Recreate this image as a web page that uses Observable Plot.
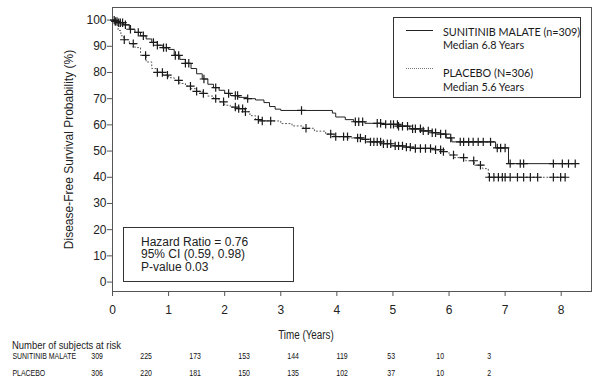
<!DOCTYPE html>
<html><head><meta charset="utf-8">
<script src="https://cdn.jsdelivr.net/npm/d3@7"></script>
<script src="https://cdn.jsdelivr.net/npm/@observablehq/plot@0.6"></script>
<style>
body{margin:0;background:#fff;}
#wrap{position:relative;width:600px;height:383px;overflow:hidden;font-family:"Liberation Sans",Arial,sans-serif;color:#222;}
#wrap svg{position:absolute;left:0;max-width:none !important;}
.abs{position:absolute;white-space:nowrap;}
.narrow{font-family:"Liberation Sans",Arial,sans-serif;transform-origin:0 50%;}
.legend{font-family:Lato,"Open Sans",sans-serif;font-size:11.5px;line-height:13px;color:#1a1a1a;transform:scaleX(0.94);transform-origin:0 50%;}
.stat{font-size:12px;line-height:13px;color:#222;}
</style></head><body><div id="wrap"></div><script>
// ---- data ----
const arms = ["SUNITINIB MALATE", "PLACEBO"];
const sunTime = [0,0.05,0.1,0.2,0.3,0.4,0.5,0.6,0.7,0.8,0.9,1.0,1.1,1.2,1.3,1.4,1.5,1.6,1.7,1.8,1.9,2.0,2.1,2.25,2.4,2.55,2.7,2.8,2.9,3.0,3.92,3.98,4.15,4.3,4.5,4.8,5.1,5.3,5.5,5.7,5.85,5.95,6.05,6.83,7.06,8.25];
const sunSurv = [100,99.5,99,98.2,96.5,95.3,94,92.8,91.5,90.4,89.5,88.8,86.5,85,83.5,81.5,79.5,77.5,75.5,74.2,73.2,72,71.2,70.5,70,69.5,68.5,67,66,65.5,64.5,63,62,61.2,60.6,60.2,59.5,58.5,57.7,57,56.5,55,53.5,51.2,45.2,45.2];
const plaTime = [0,0.05,0.1,0.15,0.2,0.3,0.4,0.5,0.6,0.7,0.8,0.9,1.0,1.1,1.2,1.3,1.4,1.5,1.6,1.7,1.8,1.9,2.0,2.1,2.2,2.35,2.45,2.55,2.65,3.0,3.2,3.4,3.6,3.8,3.95,4.2,4.45,4.6,4.8,5.0,5.2,5.4,5.7,5.9,6.0,6.1,6.3,6.45,6.6,6.7,8.1];
const plaSurv = [100,98,96,94,92.5,91,89.5,86.5,84,81.5,80,79,78,77,75.8,74.8,73.8,72.8,72,71,70,68.8,67.5,66.8,66.2,65,63.5,62,61.5,60.5,59.6,58.7,57.6,56.5,55.5,55,54.5,53.5,52.8,52,51.5,51,50.5,49.8,48.5,47.5,46.3,44.6,43.3,40,40];
const sunCensor = [0.03,0.05,0.08,0.11,0.14,0.18,0.23,0.32,0.46,0.55,0.73,0.8,0.91,0.96,1.12,1.18,1.3,1.36,1.63,1.84,2.07,2.19,2.23,2.41,3.37,4.33,4.39,4.46,4.72,4.78,4.87,4.96,5.01,5.08,5.1,5.17,5.26,5.35,5.4,5.49,5.54,5.63,5.7,5.76,5.85,5.94,6.03,6.2,6.26,6.35,6.43,6.52,6.61,6.74,6.86,6.92,7.0,7.09,7.27,7.33,7.86,8.02,8.13,8.25];
const plaCensor = [0.21,0.37,0.59,0.8,0.89,0.98,1.18,1.39,1.5,1.62,1.84,1.98,2.19,2.25,2.32,2.37,2.6,2.67,2.82,3.45,3.89,3.98,4.12,4.19,4.37,4.42,4.51,4.6,4.66,4.72,4.78,4.83,4.9,4.96,5.04,5.1,5.17,5.24,5.31,5.4,5.49,5.58,5.67,5.76,5.85,5.9,6.08,6.26,6.44,6.56,6.72,6.8,6.88,6.95,7.0,7.09,7.22,7.33,7.45,7.58,7.86,7.99,8.07];
const xTicks = [0,1,2,3,4,5,6,7,8];
const yTicks = [0,10,20,30,40,50,60,70,80,90,100];
const riskTimes = [0,1,2,3,4,5,6,7,8];
const sunRisk = [309,225,173,153,144,119,53,10,3];
const plaRisk = [306,220,181,150,135,102,37,10,2];
const legendTitles = ["SUNITINIB MALATE (n=309)", "PLACEBO (N=306)"];
const legendMedians = ["Median 6.8 Years", "Median 5.6 Years"];
const statLines = ["Hazard Ratio = 0.76", "95% CI (0.59, 0.98)", "P-value 0.03"];
const yLabel = "Disease-Free Survival Probability (%)";
const xLabel = "Time (Years)";
const riskHeader = "Number of subjects at risk";

// ---- build ----
const curve = (t, s, arm) => t.map((x, i) => ({time: x, surv: s[i], arm}));
const stepAt = (t, s, x) => s[Math.max(0, d3.bisectRight(t, x) - 1)];
const cens = (c, t, s, arm) => c.map(x => ({time: x, surv: stepAt(t, s, x), arm}));
const sunData = curve(sunTime, sunSurv, arms[0]);
const plaData = curve(plaTime, plaSurv, arms[1]);
const censors = cens(sunCensor, sunTime, sunSurv, arms[0]).concat(cens(plaCensor, plaTime, plaSurv, arms[1]));
const plus = {draw(ctx, size) { const r = Math.sqrt(size / Math.PI); ctx.moveTo(-r, 0); ctx.lineTo(r, 0); ctx.moveTo(0, -r); ctx.lineTo(0, r); }};

const wrap = document.getElementById("wrap");
const main = Plot.plot({
  width: 600, height: 320,
  marginLeft: 112, marginRight: 9, marginTop: 7, marginBottom: 29,
  style: {fontFamily: "'Liberation Sans', Arial, sans-serif", fontSize: "12px", color: "#222", background: "transparent"},
  x: {domain: [0, 8.54]},
  y: {domain: [-3.6, 104.8]},
  marks: [
    Plot.frame({stroke: "#555"}),
    Plot.axisX({ticks: xTicks, tickSize: 5, tickPadding: 9, label: null, stroke: "#555", fill: "#222"}),
    Plot.axisY({ticks: yTicks, tickSize: 5, tickPadding: 1, label: yLabel, labelAnchor: "center", labelOffset: 48, labelArrow: false, stroke: "#555", fill: "#222"}),
    Plot.line(sunData, {x: "time", y: "surv", curve: "step-after", stroke: "#222", strokeWidth: 1}),
    Plot.line(plaData, {x: "time", y: "surv", curve: "step-after", stroke: "#555", strokeWidth: 1, strokeDasharray: "1,2.5"}),
    Plot.dot(censors, {x: "time", y: "surv", symbol: plus, r: 4.2, stroke: "#1a1a1a", fill: "none", strokeWidth: 1.2})
  ]
});
main.style.top = "0px";
wrap.appendChild(main);

// risk table: drawn wide in normal-width type, then condensed horizontally
const squeeze = 0.82;
const riskRows = riskTimes.flatMap((t, i) => [{time: t, arm: arms[0], n: sunRisk[i]}, {time: t, arm: arms[1], n: plaRisk[i]}]);
const table = Plot.plot({
  width: 732, height: 34,
  marginLeft: 118, marginRight: 136, marginTop: 8, marginBottom: 9,
  style: {fontFamily: "'Liberation Sans', Arial, sans-serif", fontSize: "8.5px", color: "#111", background: "transparent", maxWidth: "none", overflow: "visible"},
  x: {domain: [0, 8], axis: null},
  y: {type: "point", domain: arms, padding: 0, axis: null},
  marks: [
    Plot.text(arms, {y: d => d, frameAnchor: "left", textAnchor: "start", dx: -103.4, text: d => d, fill: "#111"}),
    Plot.text(riskRows, {x: "time", y: "arm", text: "n", fill: "#111"})
  ]
});
table.style.top = "348px";
table.style.width = "732px";
table.style.height = "34px";
table.style.maxWidth = "none";
table.style.transform = `scaleX(${squeeze})`;
table.style.transformOrigin = "0 0";
wrap.appendChild(table);

function addText(txt, cls, css) {
  const d = document.createElement("div");
  d.className = "abs " + cls; d.textContent = txt;
  Object.assign(d.style, css); wrap.appendChild(d); return d;
}
addText(xLabel, "narrow", {left: "306px", top: "328px", transform: `translateX(-50%) scaleX(${squeeze})`, transformOrigin: "50% 50%", fontSize: "12px", lineHeight: "14px"});
addText(riskHeader, "narrow", {left: "12px", top: "338px", transform: `scaleX(${squeeze})`, fontSize: "11.5px", lineHeight: "14px"});

// legend box
addText("", "", {left: "393px", top: "17px", width: "186px", height: "79px", border: "1px solid #333"});
addText("", "", {left: "406px", top: "30px", width: "27px", height: "0", borderTop: "1px solid #222"});
addText("", "", {left: "406px", top: "68px", width: "27px", height: "0", borderTop: "1px dotted #777"});
[[legendTitles[0], 24.5], [legendMedians[0], 37.5], [legendTitles[1], 65.5], [legendMedians[1], 79.5]].forEach(([t, y]) =>
  addText(t, "legend", {left: "443px", top: y + "px"}));

// stats box
addText("", "", {left: "123px", top: "227px", width: "169px", height: "53px", border: "1px solid #333"});
statLines.forEach((t, i) => addText(t, "stat", {left: "141px", top: (235.5 + i * 12.8) + "px"}));
</script></body></html>
